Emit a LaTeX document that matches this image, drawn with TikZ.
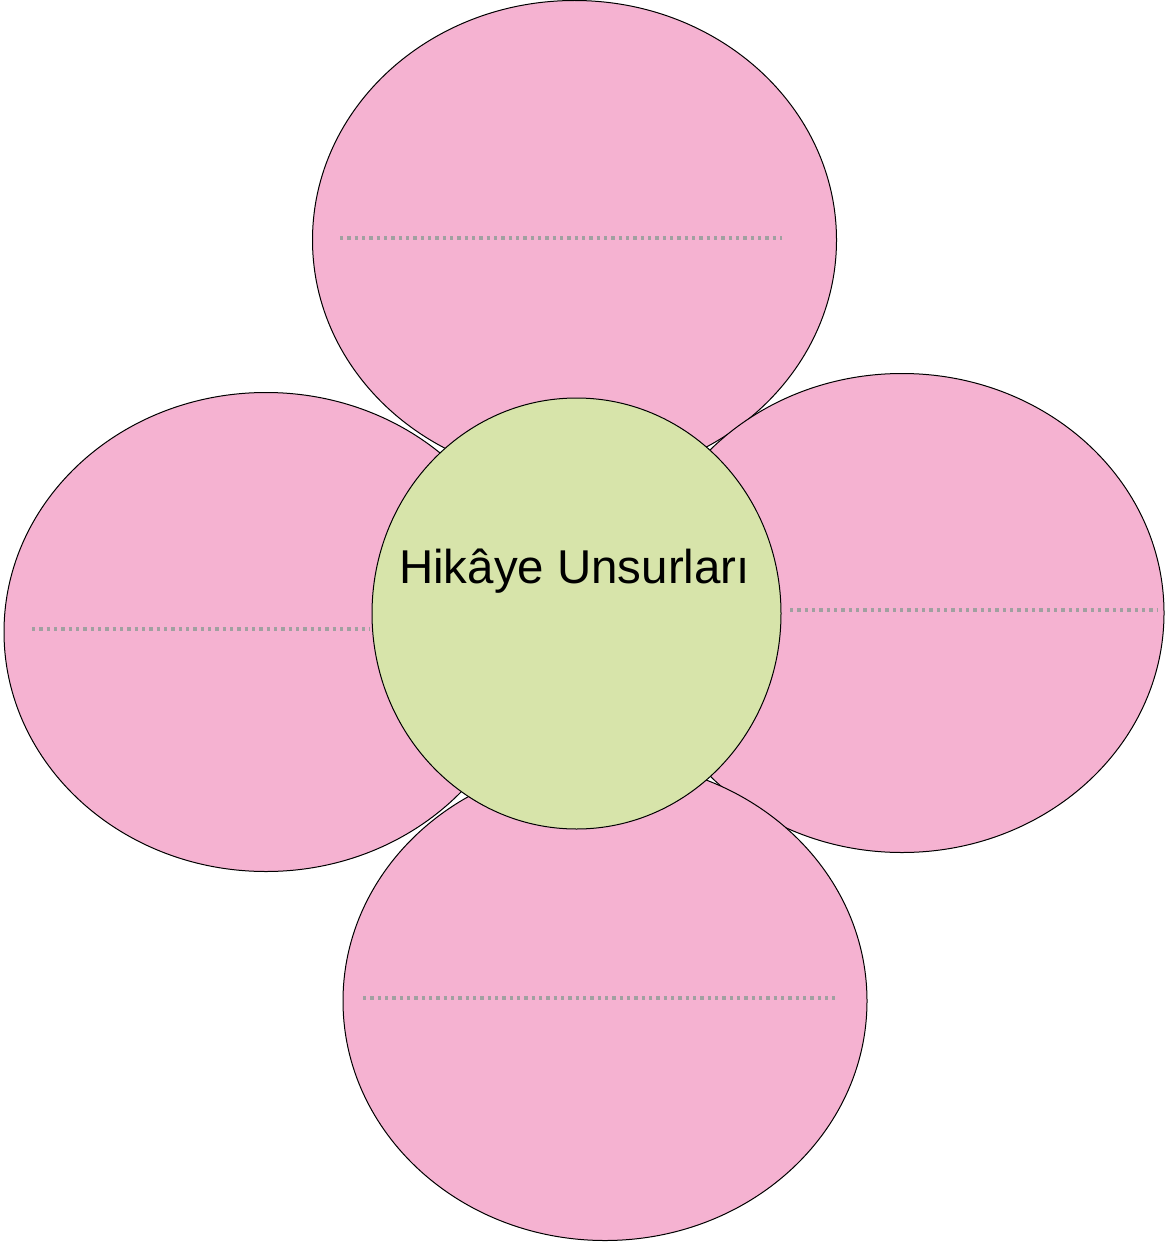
\documentclass[tikz,border=0pt]{standalone}
\usepackage{fontspec}
\setmainfont{Liberation Sans}
\usetikzlibrary{shapes.geometric}
\definecolor{petal}{HTML}{F5B2D1}
\definecolor{heart}{HTML}{D7E4AA}
\definecolor{dotgray}{HTML}{A0A0A0}
\begin{document}
\begin{tikzpicture}[x=0.75pt,y=-0.75pt,
  petalbox/.style={ellipse,draw=black,fill=petal,line width=0.75pt,inner sep=0pt,minimum width=524*0.75pt,minimum height=479*0.75pt},
  heartbox/.style={ellipse,draw=black,fill=heart,line width=0.75pt,inner sep=0pt,minimum width=409*0.75pt,minimum height=431*0.75pt},
  dotline/.style={draw=dotgray,line width=2.4pt,dash pattern=on 2.4pt off 3.1pt}]
\useasboundingbox (0,0) rectangle (1168,1245);
\node[petalbox] (left) at (266,632) {};
\node[petalbox] (top) at (574.5,240) {};
\node[petalbox] (right) at (902,613) {};
\node[petalbox] (bottom) at (605,1001) {};
\coordinate (tl) at (340,238); \coordinate (tr) at (782,238);
\coordinate (ll) at (32,629); \coordinate (lr) at (370,629);
\coordinate (rl) at (790,610); \coordinate (rr) at (1157,610);
\coordinate (bl) at (363,998); \coordinate (br) at (835,998);
\draw[dotline] (tl) -- (tr);
\draw[dotline] (ll) -- (lr);
\draw[dotline] (rl) -- (rr);
\draw[dotline] (bl) -- (br);
\node[heartbox] (center) at (576.5,613.5) {};
\node[font=\fontsize{35.6pt}{42pt}\selectfont,inner sep=0pt,anchor=base] (title) at (574.5,583) {Hikâye Unsurları};
\end{tikzpicture}
\end{document}
